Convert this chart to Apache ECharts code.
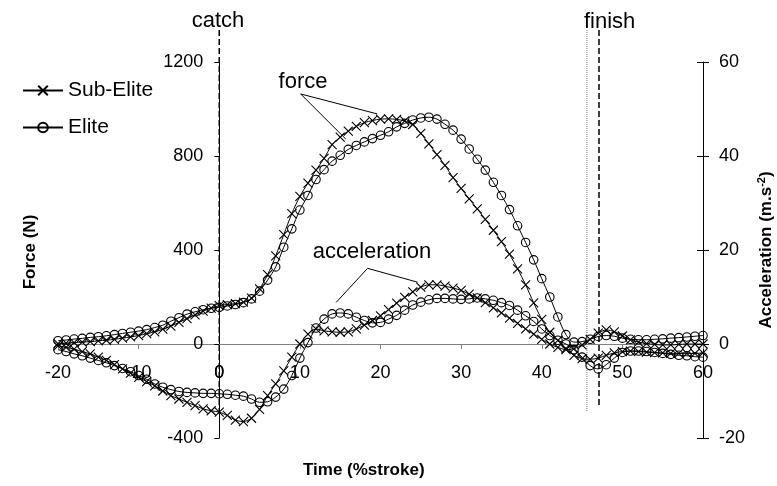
<!DOCTYPE html>
<html><head><meta charset="utf-8">
<script src="https://cdn.jsdelivr.net/npm/echarts@6/dist/echarts.min.js"></script>
<style>html,body{margin:0;padding:0;background:#fff}#c{width:777px;height:486px}</style>
</head><body><div id="c"></div>
<script>
// Time (% stroke) sample points
const strokeTime = [-20,-19,-18,-17,-16,-15,-14,-13,-12,-11,-10,-9,-8,-7,-6,-5,-4,-3,-2,-1,
  0,1,2,3,4,5,6,7,8,9,10,11,12,13,14,15,16,17,18,19,20,21,22,23,24,25,26,27,28,29,
  30,31,32,33,34,35,36,37,38,39,40,41,42,43,44,45,46,47,48,49,50,51,52,53,54,55,56,57,58,59,60];
// Force (N)
const subEliteForce = [2,4,6,8,10,13,16,20,25,30,
  36,44,52,63,76,92,108,124,140,153,
  163,168,172,178,195,235,295,375,465,555,
  628,685,740,790,848,880,906,926,942,951,
  957,958,956,949,934,896,852,806,760,708,
  662,618,575,530,484,436,382,320,252,175,
  105,50,15,-20,-48,-62,-65,-60,-48,-38,
  -32,-30,-32,-35,-37,-38,-40,-40,-40,-40,-38];
const eliteForce = [14,17,21,24,28,31,35,40,45,50,
  55,61,70,80,97,112,127,137,146,152,
  156,162,168,176,192,225,272,328,412,490,
  570,632,700,742,778,803,828,845,860,874,
  888,903,924,939,953,962,965,957,935,910,
  872,830,786,740,688,632,572,503,432,358,
  278,200,115,40,8,10,20,32,36,33,
  25,20,18,18,20,22,25,27,30,33,36];
// Acceleration (m.s-2)
const subEliteAccel = [-0.4,-0.7,-1.1,-1.6,-2.1,-2.8,-3.5,-4.4,-5.3,-6.2,
  -7.1,-8.0,-8.9,-10.0,-11.0,-11.7,-12.4,-13.1,-13.8,-14.2,
  -14.5,-15.2,-16.2,-16.5,-15.8,-13.9,-11.0,-8.5,-5.7,-2.8,
  0.0,2.1,3.2,2.8,2.6,2.5,2.6,3.2,4.0,5.0,
  6.0,7.3,8.7,9.9,11.1,12.1,12.6,12.6,12.3,11.9,
  11.4,10.6,9.8,8.8,7.7,6.6,5.5,4.4,3.2,2.1,
  1.0,0.0,-0.7,-1.2,-1.0,-0.2,1.0,2.3,3.0,2.6,
  1.7,0.9,0.4,0.1,-0.1,-0.2,-0.2,-0.1,0.0,0.0,0.0];
const eliteAccel = [-1.2,-1.6,-2.1,-2.5,-3.0,-3.5,-4.0,-4.6,-5.2,-5.9,
  -6.7,-7.5,-8.5,-9.2,-9.7,-10.1,-10.3,-10.4,-10.5,-10.5,
  -10.6,-10.7,-10.9,-11.1,-11.7,-12.4,-12.3,-11.3,-9.6,-6.7,
  -3.0,0.3,3.4,5.3,6.4,6.6,6.4,5.7,5.0,4.5,
  4.6,5.3,6.1,7.2,8.3,8.9,9.4,9.7,9.7,9.6,
  9.5,9.6,9.8,9.6,9.3,8.8,8.2,7.2,6.0,4.8,
  3.2,1.8,0.8,0.0,-1.2,-2.8,-4.6,-5.3,-4.4,-3.0,
  -1.8,-1.5,-1.5,-1.6,-1.8,-2.0,-2.2,-2.4,-2.5,-2.7,-2.8];
// Axis ranges / ticks
const timeTicks = {min:-20, max:60, interval:10};
const forceTicks = {min:-400, max:1200, interval:400};
const accelTicks = {min:-20, max:60, interval:20};
// Event markers (% stroke) and their vertical extent (force units)
const catchTime = 0;
const finishSubElite = 45.6;
const finishElite = 47.1;
const markerTop = 1336, catchBottom = -298, dottedBottom = -285, dashedBottom = -268;
// Annotation arrows [start, end] in data units (time, force)
const forceArrows = [[[10.1,1064],[15.7,872]], [[10.1,1064],[19.6,979]]];
const accelArrows = [[[18.4,322],[14.5,177]], [[18.4,322],[24.6,263]]];

const FONT = '"Liberation Sans", Arial, sans-serif';
const pair = arr => strokeTime.map((t,i)=>[t, arr[i]]);
const xSym = 'path://M0,0L10,10M10,0L0,10';

// grid geometry (layout only)
const G = {left:58, right:74, top:62, bottom:48, w:777, h:486};
const plotW = G.w - G.left - G.right, plotH = G.h - G.top - G.bottom;
// shift axes so they sit on the zero lines
const yAxisShift = -plotW * (0 - timeTicks.min) / (timeTicks.max - timeTicks.min);
const xAxisShift = -plotH * (0 - forceTicks.min) / (forceTicks.max - forceTicks.min);
const zeroX = G.left - yAxisShift, zeroY = G.top + plotH + xAxisShift;

const chart = echarts.init(document.getElementById('c'), null, {renderer:'canvas'});

function markerLine(x, bottom, style){
  return {type:'line', data:[[x, markerTop],[x, bottom]], symbol:'none', clip:false, silent:true,
    lineStyle:style, z:1, animation:false, tooltip:{show:false}};
}
function arrowLines(list){
  return list.map(a => [{coord:a[0]},{coord:a[1]}]);
}

const seriesStyleX = {
  symbol:xSym, symbolSize:9, smooth:0.3, showSymbol:true,
  lineStyle:{color:'#000', width:1},
  itemStyle:{color:'#000', borderColor:'#000', borderWidth:1.1}
};
const seriesStyleO = {
  symbol:'circle', symbolSize:8.5, smooth:0.3, showSymbol:true,
  lineStyle:{color:'#000', width:1},
  itemStyle:{color:'rgba(255,255,255,0)', borderColor:'#000', borderWidth:1.1}
};
const plain = v => String(v);

chart.setOption({
  animation:false,
  backgroundColor:'#fff',
  grid:{left:G.left, right:G.right, top:G.top, bottom:G.bottom, containLabel:false},
  legend:{
    data:['Sub-Elite','Elite'], orient:'vertical', left:22, top:80, padding:0, itemWidth:40, itemHeight:12, itemGap:16,
    textStyle:{fontFamily:FONT, fontSize:21, color:'#000'}, selectedMode:false
  },
  xAxis:{
    type:'value', min:timeTicks.min, max:timeTicks.max, interval:timeTicks.interval,
    offset:xAxisShift,
    axisLine:{onZero:false, lineStyle:{color:'#808080', width:1}},
    axisTick:{show:true, length:5, lineStyle:{color:'#808080'}},
    axisLabel:{fontFamily:FONT, fontSize:18, color:'#000', margin:20, formatter:plain, hideOverlap:false},
    splitLine:{show:false}
  },
  yAxis:[
    {type:'value', min:forceTicks.min, max:forceTicks.max, interval:forceTicks.interval,
     offset:yAxisShift,
     axisLine:{show:true, onZero:false, lineStyle:{color:'#000', width:1}},
     axisTick:{show:true, length:5, lineStyle:{color:'#000'}},
     axisLabel:{fontFamily:FONT, fontSize:18, color:'#000', margin:16, formatter:plain},
     splitLine:{show:false}},
    {type:'value', position:'right', min:accelTicks.min, max:accelTicks.max, interval:accelTicks.interval,
     axisLine:{show:true, onZero:false, lineStyle:{color:'#000', width:1}},
     axisTick:{show:true, length:6, lineStyle:{color:'#000'}},
     axisLabel:{fontFamily:FONT, fontSize:18, color:'#000', margin:16, formatter:plain},
     splitLine:{show:false}},
    {type:'value', position:'right', min:accelTicks.min, max:accelTicks.max, interval:accelTicks.interval,
     axisLine:{show:false, onZero:false},
     axisTick:{show:true, inside:true, length:6, lineStyle:{color:'#000'}},
     axisLabel:{show:false}, splitLine:{show:false}}
  ],
  series:[
    markerLine(catchTime, catchBottom, {color:'#000', width:1.5, type:[6,3]}),
    markerLine(finishSubElite, dottedBottom, {color:'#777', width:1, type:[1,1]}),
    markerLine(finishElite, dashedBottom, {color:'#000', width:1.5, type:[6,3]}),
    Object.assign({name:'Sub-Elite', type:'line', yAxisIndex:0, data:pair(subEliteForce), z:3}, seriesStyleX),
    Object.assign({name:'Elite', type:'line', yAxisIndex:0, data:pair(eliteForce), z:3,
      markLine:{silent:true, symbol:['none','arrow'], symbolSize:[0,9], label:{show:false},
        lineStyle:{color:'#000', width:1, type:'solid'}, emphasis:{disabled:true},
        data:arrowLines(forceArrows).concat(arrowLines(accelArrows))}}, seriesStyleO),
    Object.assign({name:'Sub-Elite', type:'line', yAxisIndex:1, data:pair(subEliteAccel), z:3}, seriesStyleX),
    Object.assign({name:'Elite', type:'line', yAxisIndex:1, data:pair(eliteAccel), z:3}, seriesStyleO)
  ],
  graphic:[
    {type:'text', x:218, y:21, style:{text:'catch', font:'22px '+FONT, fill:'#000', textAlign:'center', verticalAlign:'middle', textVerticalAlign:'middle'}},
    {type:'text', x:584, y:22, style:{text:'finish', font:'22px '+FONT, fill:'#000', textAlign:'left', verticalAlign:'middle', textVerticalAlign:'middle'}},
    {type:'text', x:303, y:82, style:{text:'force', font:'22px '+FONT, fill:'#000', textAlign:'center', verticalAlign:'middle', textVerticalAlign:'middle'}},
    {type:'text', x:372, y:252, style:{text:'acceleration', font:'22px '+FONT, fill:'#000', textAlign:'center', verticalAlign:'middle', textVerticalAlign:'middle'}},
    {type:'text', x:303, y:470, style:{text:'Time (%stroke)', font:'bold 17px '+FONT, fill:'#000', textAlign:'left', verticalAlign:'middle', textVerticalAlign:'middle'}},
    {type:'text', x:30, y:252, rotation:Math.PI/2, style:{text:'Force (N)', font:'bold 17px '+FONT, fill:'#000', textAlign:'center', verticalAlign:'middle', textVerticalAlign:'middle'}},
    {type:'text', x:766, y:250, rotation:Math.PI/2, style:{text:'Acceleration (m.s{sup|-2})', font:'bold 17px '+FONT, fill:'#000', textAlign:'center', verticalAlign:'middle', textVerticalAlign:'middle',
      rich:{sup:{fontSize:11, fontWeight:'bold', fontFamily:FONT, verticalAlign:'top', padding:[0,0,8,0]}}}},
    // tick label "0" of the time axis (hidden by the library at the axis crossing)
    {type:'text', x:zeroX, y:zeroY + 29, z:100, style:{text:'0', font:'18px '+FONT, fill:'#000', textAlign:'center', verticalAlign:'middle', textVerticalAlign:'middle'}}
  ]
});
</script></body></html>
